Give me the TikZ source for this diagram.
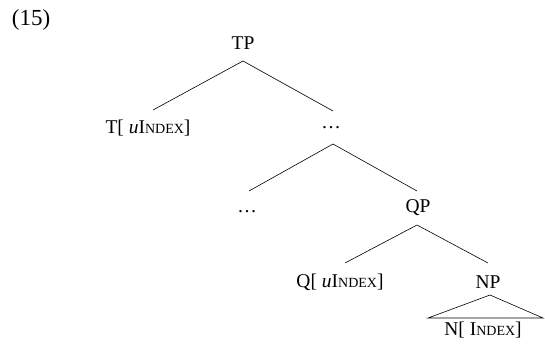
\documentclass[tikz,border=0pt]{standalone}
\usepackage{fontspec}
\setmainfont{Liberation Serif}
\newcommand{\smc}[1]{{\fontsize{14}{14}\selectfont #1}}
\newcommand{\idx}{I\smc{NDEX}}
\begin{document}
\begin{tikzpicture}[x=1pt,y=-1pt,
  lab/.style={inner sep=0pt,font=\fontsize{19.5}{19.5}\selectfont},
  br/.style={line width=0.6pt}]
\useasboundingbox (0,0) rectangle (545,348);
\node[lab,font=\fontsize{23}{23}\selectfont] (ex) at (31,20) {(15)};
\node[lab] (tp) at (243,43) {TP};
\node[lab] (t) at (148,128) {T[ \textit{u}\idx]};
\node[lab] (d1) at (331,128) {\dots};
\node[lab] (d2) at (247,212) {\dots};
\node[lab] (qp) at (418,208) {QP};
\node[lab] (q) at (340,282) {Q[ \textit{u}\idx]};
\node[lab] (np) at (488,282) {NP};
\node[lab] (n) at (483,330) {N[ \idx]};
\coordinate (tpb) at (243,61);
\coordinate (tl) at (153,110);
\coordinate (tr) at (333,111);
\coordinate (d1b) at (333,144);
\coordinate (dl) at (249,191);
\coordinate (dr) at (417,191);
\coordinate (qpb) at (417,225);
\coordinate (ql) at (345,263);
\coordinate (qr) at (488,263);
\coordinate (npb) at (490,295);
\coordinate (nl) at (428,318);
\coordinate (nr) at (543,318);
\draw[br] (tl) -- (tpb) -- (tr);
\draw[br] (dl) -- (d1b) -- (dr);
\draw[br] (ql) -- (qpb) -- (qr);
\draw[br] (nl) -- (npb) -- (nr) -- cycle;
\end{tikzpicture}
\end{document}
